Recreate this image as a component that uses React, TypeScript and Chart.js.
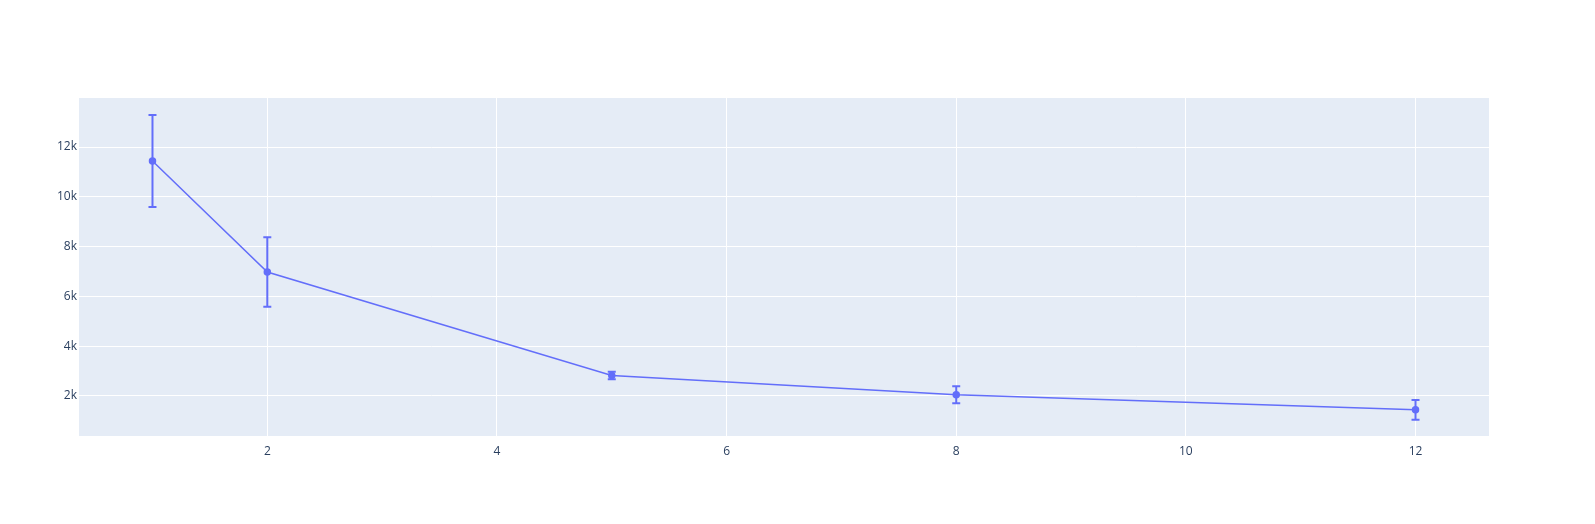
import { useEffect, useRef } from 'react'
import Chart from 'chart.js/auto'

const xs = [1, 2, 5, 8, 12]
const ys = [11440, 6980, 2820, 2050, 1440]
const errs = [1850, 1400, 150, 340, 400]
const xTicks = [2, 4, 6, 8, 10, 12]
const yTicks = [2000, 4000, 6000, 8000, 10000, 12000]

const COLOR = '#636efa'

const bgPlugin = {
  id: 'bg',
  beforeDraw(chart: any) {
    const { ctx, chartArea: a } = chart
    ctx.save()
    ctx.fillStyle = '#e5ecf6'
    ctx.fillRect(a.left, a.top, a.right - a.left, a.bottom - a.top)
    ctx.restore()
  },
}

const errPlugin = {
  id: 'err',
  afterDatasetsDraw(chart: any) {
    const { ctx, scales } = chart
    ctx.save()
    ctx.strokeStyle = COLOR
    ctx.lineWidth = 2
    xs.forEach((x, i) => {
      const px = scales.x.getPixelForValue(x)
      const top = scales.y.getPixelForValue(ys[i] + errs[i])
      const bot = scales.y.getPixelForValue(ys[i] - errs[i])
      ctx.beginPath()
      ctx.moveTo(px, top); ctx.lineTo(px, bot)
      ctx.moveTo(px - 4, top); ctx.lineTo(px + 4, top)
      ctx.moveTo(px - 4, bot); ctx.lineTo(px + 4, bot)
      ctx.stroke()
    })
    ctx.restore()
  },
}

export default function App() {
  const ref = useRef<HTMLCanvasElement | null>(null)
  useEffect(() => {
    document.body.style.margin = '0'
    if (!ref.current) return
    const font = { family: '"Open Sans", sans-serif', size: 12 }
    const chart = new Chart(ref.current, {
      type: 'scatter',
      data: {
        datasets: [{
          data: xs.map((x, i) => ({ x, y: ys[i] })),
          showLine: true,
          borderColor: COLOR,
          backgroundColor: COLOR,
          borderWidth: 1.5,
          pointRadius: 3,
        }],
      },
      options: {
        animation: false,
        responsive: false,
        layout: { padding: { top: 98, right: 106, left: 0, bottom: 0 } },
        plugins: { legend: { display: false }, tooltip: { enabled: false } },
        scales: {
          x: {
            type: 'linear', min: 0.36, max: 12.64,
            afterBuildTicks: (s: any) => { s.ticks = xTicks.map(v => ({ value: v })) },
            afterFit: (s: any) => { s.height = 88 },
            grid: { color: '#ffffff', lineWidth: 1, drawTicks: false },
            border: { display: false },
            ticks: { color: '#2a3f5f', font, padding: 8, maxRotation: 0 },
          },
          y: {
            min: 390, max: 13970,
            afterBuildTicks: (s: any) => { s.ticks = yTicks.map(v => ({ value: v })) },
            afterFit: (s: any) => { s.width = 79 },
            grid: { color: '#ffffff', lineWidth: 1, drawTicks: false },
            border: { display: false },
            ticks: { color: '#2a3f5f', font, padding: 2, callback: (v: any) => Number(v) / 1000 + 'k' },
          },
        },
      },
      plugins: [bgPlugin, errPlugin],
    })
    return () => chart.destroy()
  }, [])
  return <canvas ref={ref} width={1595} height={524} />
}
